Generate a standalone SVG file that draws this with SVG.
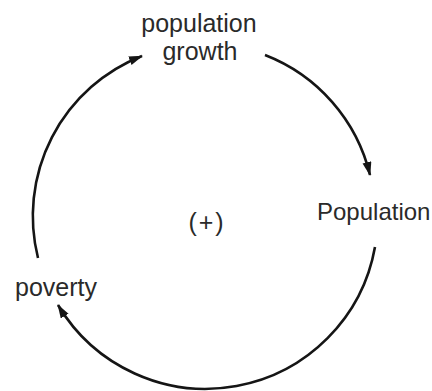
<svg xmlns="http://www.w3.org/2000/svg" width="432" height="391" viewBox="0 0 432 391">
<defs>
<style>
.lbl{font-family:"Liberation Sans",Arial,sans-serif;font-size:25px;fill:#2a2a2a}
.arc{fill:none;stroke:#151515;stroke-width:2.6}
</style>
<marker id="ah" markerUnits="userSpaceOnUse" markerWidth="15" markerHeight="10" refX="13" refY="4.5" orient="auto">
<path d="M0,0 L14,4.5 L0,9 z" fill="#151515"/>
</marker>
</defs>
<rect width="432" height="391" fill="#fff"/>
<g id="connectors">
<path class="arc" d="M38,258 A172,172 0 0 1 142,56" marker-end="url(#ah)"/>
<path class="arc" d="M265,55 A172,172 0 0 1 370,175" marker-end="url(#ah)"/>
<path class="arc" d="M375,247 A172,172 0 0 1 58,305" marker-end="url(#ah)"/>
</g>
<g id="population-growth">
<text class="lbl" x="199" y="32" text-anchor="middle">population</text>
<text class="lbl" x="200" y="60" text-anchor="middle">growth</text>
</g>
<g id="population">
<text class="lbl" x="317" y="220" style="font-size:24px">Population</text>
</g>
<g id="poverty">
<text class="lbl" x="15" y="296">poverty</text>
</g>
<g id="loop-sign">
<text class="lbl" x="207" y="231" text-anchor="middle" letter-spacing="2">(+)</text>
</g>
</svg>
